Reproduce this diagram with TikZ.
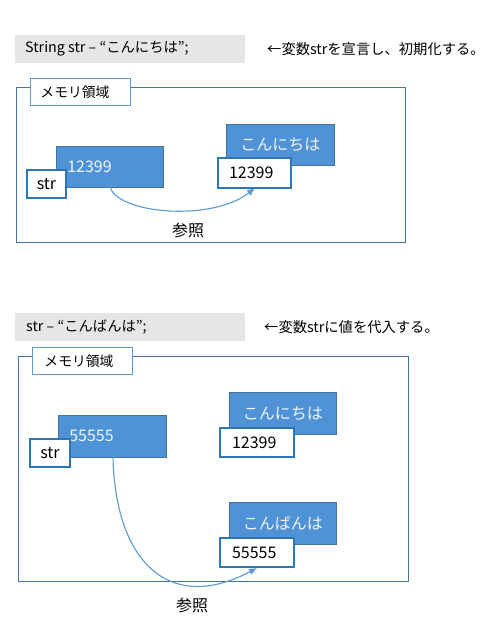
\documentclass[tikz,border=0pt]{standalone}
\usepackage{fontspec}
\setmainfont{Noto Sans CJK JP}
\usetikzlibrary{arrows.meta}
\definecolor{codegray}{HTML}{E7E6E6}
\definecolor{boxblue}{HTML}{5092D6}
\definecolor{boxedge}{HTML}{41719C}
\definecolor{thickedge}{HTML}{2E75B6}
\definecolor{frameedge}{HTML}{41719C}
\definecolor{lightedge}{HTML}{5B9BD5}
\definecolor{arrowblue}{HTML}{5B9BD5}
\definecolor{boxtext}{HTML}{EEF4FB}
\newcommand\fntcode{\fontsize{14.3bp}{16bp}\selectfont}
\newcommand\fntbox{\fontsize{16bp}{18bp}\selectfont}
\newcommand\fntmem{\fontsize{13.8bp}{16bp}\selectfont}
\begin{document}
\begin{tikzpicture}[x=1bp,y=-1bp,
  codebox/.style={fill=codegray, draw=none, anchor=north west, inner sep=0pt},
  codetext/.style={anchor=west, inner sep=0pt, font=\fntcode},
  memframe/.style={draw=frameedge, line width=0.9bp, anchor=north west, inner sep=0pt},
  memlabel/.style={draw=lightedge, fill=white, line width=0.9bp, anchor=north west, inner sep=0pt, font=\fntmem, align=left},
  bluebox/.style={fill=boxblue, draw=boxedge, line width=0.6bp, anchor=north west, inner sep=0pt, font=\fntbox, text=boxtext},
  whitebox/.style={fill=white, draw=thickedge, line width=2bp, anchor=north west, inner sep=0pt, font=\fntbox},
  refarrow/.style={draw=arrowblue, line width=1.1bp, -{Latex[length=8bp,width=7bp]}},
  reflabel/.style={font=\fntbox, inner sep=0pt}
]
\useasboundingbox (0,0) rectangle (497,632);

% ---------- top section ----------
\node[codebox, minimum width=230bp, minimum height=28bp] (code1) at (15,35) {};
\node[codetext] (code1t) at (25,49) {String str – “こんにちは”;};
\node[codetext] (note1) at (267,49) {←変数strを宣言し、初期化する。};

\node[memframe, minimum width=389bp, minimum height=155bp] (frame1) at (16,87) {};
\node[memlabel, minimum width=100bp, minimum height=27bp, text width=90bp, inner xsep=0pt] (mem1) at (30,78) {\hspace*{5bp}メモリ領域};

\node[bluebox, minimum width=107bp, minimum height=41bp, text width=96bp, align=left] (var1) at (56,146) {\hspace*{5.5bp}12399};
\node[whitebox, minimum width=39bp, minimum height=28bp] (str1) at (26,169) {str};

\node[bluebox, minimum width=108bp, minimum height=41bp] (obj1) at (226,124) {こんにちは};
\node[whitebox, minimum width=73bp, minimum height=30bp, text width=70bp, align=left] (addr1) at (217,157) {\hspace*{9.5bp}12399};

\coordinate (s1) at (110,187);
\coordinate (e1) at (255,188);
\draw[refarrow] (s1) .. controls (118,214) and (212,222) .. (e1);
\node[reflabel] (ref1) at (188,230) {参照};

% ---------- bottom section ----------
\node[codebox, minimum width=230bp, minimum height=28bp] (code2) at (15,313) {};
\node[codetext] (code2t) at (26,327) {str – “こんばんは”;};
\node[codetext] (note2) at (264,327) {←変数strに値を代入する。};

\node[memframe, minimum width=390bp, minimum height=225bp] (frame2) at (18,356) {};
\node[memlabel, minimum width=100bp, minimum height=27bp, text width=90bp, inner xsep=0pt] (mem2) at (32,347) {\hspace*{7bp}メモリ領域};

\node[bluebox, minimum width=108bp, minimum height=42bp, text width=96bp, align=left] (var2) at (58,415) {\hspace*{5bp}55555};
\node[whitebox, minimum width=40bp, minimum height=28bp] (str2) at (29,438) {str};

\node[bluebox, minimum width=107bp, minimum height=42bp] (obj2) at (229,392) {こんにちは};
\node[whitebox, minimum width=74bp, minimum height=29bp, text width=70bp, align=left] (addr2) at (219,427) {\hspace*{10bp}12399};

\node[bluebox, minimum width=107bp, minimum height=42bp] (obj3) at (229,502) {こんばんは};
\node[whitebox, minimum width=74bp, minimum height=29bp, text width=70bp, align=left] (addr3) at (219,537) {\hspace*{10bp}55555};

\coordinate (s2) at (113,457);
\coordinate (e2) at (257,568);
\draw[refarrow] (s2) .. controls (115,560) and (168,615) .. (e2);
\node[reflabel] (ref2) at (192,605) {参照};
\end{tikzpicture}
\end{document}
